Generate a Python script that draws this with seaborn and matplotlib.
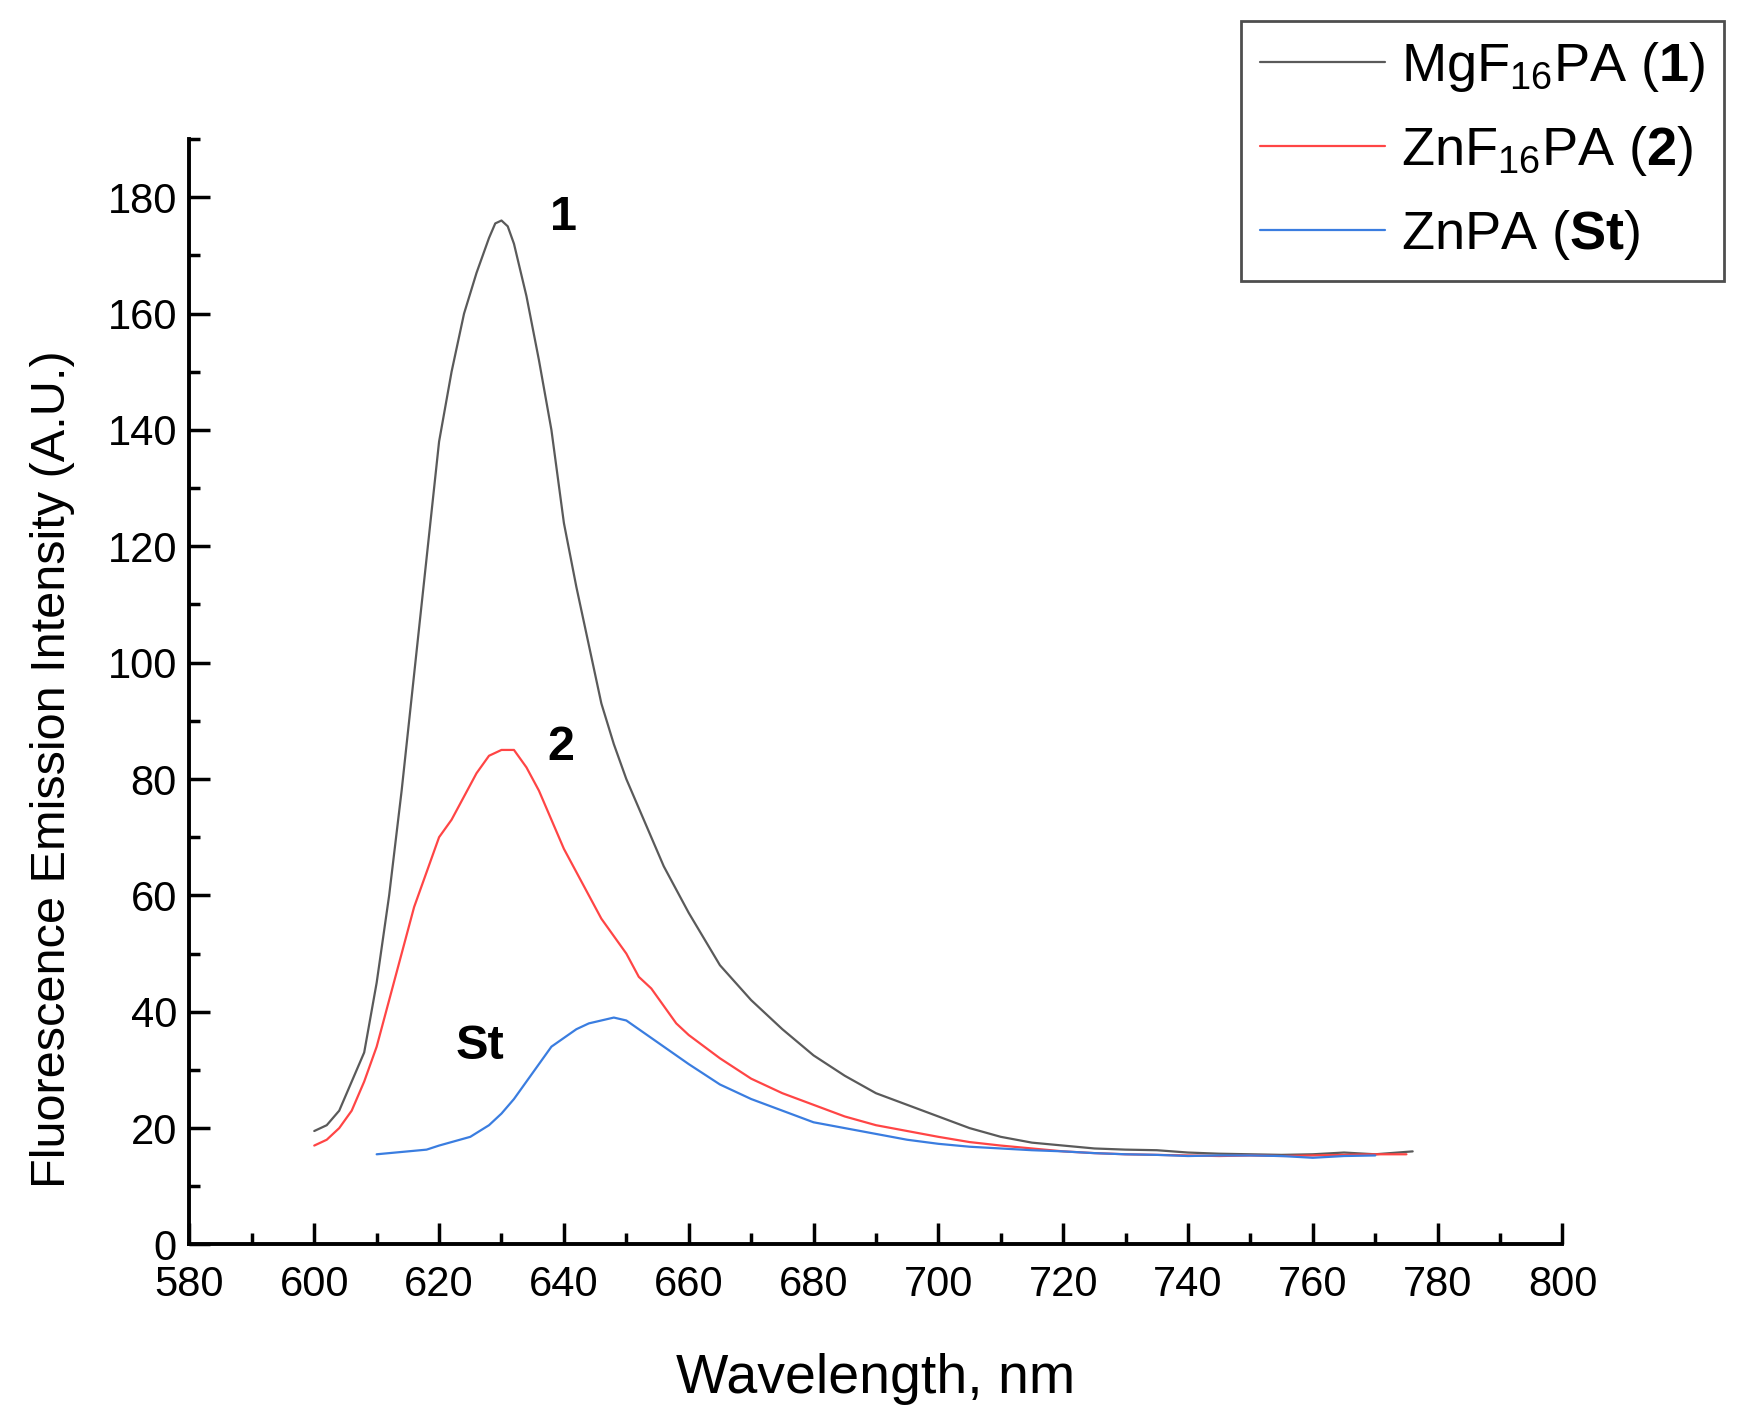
import numpy as np
import pandas as pd
import matplotlib
matplotlib.use("Agg")
import matplotlib.pyplot as plt
import seaborn as sns
from matplotlib.ticker import MultipleLocator

# ---- data ----
wl_1 = [600, 602, 604, 606, 608, 610, 612, 614, 616, 618, 620, 622, 624, 626, 628, 629, 630,
        631, 632, 634, 636, 638, 640, 642, 644, 646, 648, 650, 652, 654, 656, 658, 660, 665,
        670, 675, 680, 685, 690, 695, 700, 705, 710, 715, 720, 725, 730, 735, 740, 745,
        750, 755, 760, 765, 770, 776]
int_1 = [19.5, 20.5, 23, 28, 33, 45, 60, 78, 98, 118, 138, 150, 160, 167, 173, 175.5, 176,
         175, 172, 163, 152, 140, 124, 113, 103, 93, 86, 80, 75, 70, 65, 61, 57, 48,
         42, 37, 32.5, 29, 26, 24, 22, 20, 18.5, 17.5, 17, 16.5, 16.3, 16.2, 15.8, 15.6,
         15.5, 15.4, 15.5, 15.8, 15.5, 16]

wl_2 = [600, 602, 604, 606, 608, 610, 612, 614, 616, 618, 620, 622, 624, 626, 628, 630,
        632, 634, 636, 638, 640, 642, 644, 646, 648, 650, 652, 654, 656, 658, 660, 665,
        670, 675, 680, 685, 690, 695, 700, 705, 710, 715, 720, 725, 730, 735, 740, 745,
        750, 755, 760, 765, 770, 775]
int_2 = [17, 18, 20, 23, 28, 34, 42, 50, 58, 64, 70, 73, 77, 81, 84, 85,
         85, 82, 78, 73, 68, 64, 60, 56, 53, 50, 46, 44, 41, 38, 36, 32,
         28.5, 26, 24, 22, 20.5, 19.5, 18.5, 17.6, 17, 16.5, 16, 15.7, 15.5, 15.4, 15.3, 15.2,
         15.3, 15.2, 15.3, 15.4, 15.5, 15.5]

wl_st = [610, 615, 618, 620, 622, 625, 628, 630, 632, 634, 636, 638, 640, 642, 644, 646,
         648, 650, 652, 654, 656, 658, 660, 665, 670, 675, 680, 685, 690, 695, 700, 705,
         710, 715, 720, 725, 730, 735, 740, 745, 750, 755, 760, 765, 770]
int_st = [15.5, 16, 16.3, 17, 17.6, 18.5, 20.5, 22.5, 25, 28, 31, 34, 35.5, 37, 38, 38.5,
          39, 38.5, 37, 35.5, 34, 32.5, 31, 27.5, 25, 23, 21, 20, 19, 18, 17.3, 16.8,
          16.5, 16.2, 16, 15.7, 15.5, 15.4, 15.2, 15.3, 15.3, 15.2, 14.9, 15.2, 15.3]

labels = ["MgF$_{16}$PA ($\\mathbf{1}$)", "ZnF$_{16}$PA ($\\mathbf{2}$)", "ZnPA ($\\mathbf{St}$)"]
colors = ["#5a5a5a", "#ff4545", "#3a7de0"]

xticks = list(range(580, 801, 20))
yticks = list(range(0, 181, 20))

annot_text = ["1", "2", "St"]
annot_x = [640.0, 639.5, 626.5]
annot_y = [176.5, 85.5, 34.0]

df = pd.concat([
    pd.DataFrame({"wl": wl_1, "I": int_1, "s": labels[0]}),
    pd.DataFrame({"wl": wl_2, "I": int_2, "s": labels[1]}),
    pd.DataFrame({"wl": wl_st, "I": int_st, "s": labels[2]}),
], ignore_index=True)

sns.set_style("ticks")
plt.rcParams["font.family"] = ["Liberation Sans", "DejaVu Sans"]
plt.rcParams["mathtext.fontset"] = "custom"
plt.rcParams["mathtext.rm"] = "Liberation Sans"
plt.rcParams["mathtext.bf"] = "Liberation Sans:bold"
plt.rcParams["mathtext.it"] = "Liberation Sans:italic"
for k in ["text.color", "axes.labelcolor", "xtick.color", "ytick.color", "axes.edgecolor"]:
    plt.rcParams[k] = "black"

fig = plt.figure(figsize=(17.38, 14.19), dpi=100)
ax = fig.add_axes([0.109, 0.123, 0.790, 0.779])

sns.lineplot(data=df, x="wl", y="I", hue="s", palette=dict(zip(labels, colors)),
             linewidth=1.6, ax=ax, legend=False, sort=False)

ax.set_xlim(580, 800)
ax.set_ylim(0, 190)
ax.set_xticks(xticks)
ax.set_yticks(yticks)
ax.xaxis.set_minor_locator(MultipleLocator(10))
ax.yaxis.set_minor_locator(MultipleLocator(10))
ax.tick_params(axis="both", which="major", direction="in", length=15, width=2.5,
               labelsize=30)
ax.tick_params(axis="x", which="major", pad=15)
ax.tick_params(axis="y", which="major", pad=9)
ax.tick_params(axis="both", which="minor", direction="in", length=8, width=2.5)
for sp in ["top", "right"]:
    ax.spines[sp].set_visible(False)
for sp in ["left", "bottom"]:
    ax.spines[sp].set_linewidth(2.8)

ax.set_xlabel("Wavelength, nm", fontsize=40, labelpad=34)
ax.set_ylabel("Fluorescence Emission Intensity (A.U.)", fontsize=35, labelpad=14)
ax.yaxis.set_label_coords(-0.083, 0.43)

for t, x, y in zip(annot_text, annot_x, annot_y):
    ax.text(x, y, t, fontsize=35, fontweight="bold", ha="center", va="center")

handles = [plt.Line2D([0], [0], color=c, lw=1.6) for c in colors]
leg = fig.legend(handles, labels, loc="upper right", bbox_to_anchor=(0.992, 0.985),
                 fontsize=39, frameon=True, fancybox=False, edgecolor="#222222",
                 handlelength=2.3, handletextpad=0.3, labelspacing=0.55,
                 borderpad=0.35, borderaxespad=0)
leg.get_frame().set_linewidth(2.0)

fig.savefig("out.png", dpi=100, facecolor="white")
